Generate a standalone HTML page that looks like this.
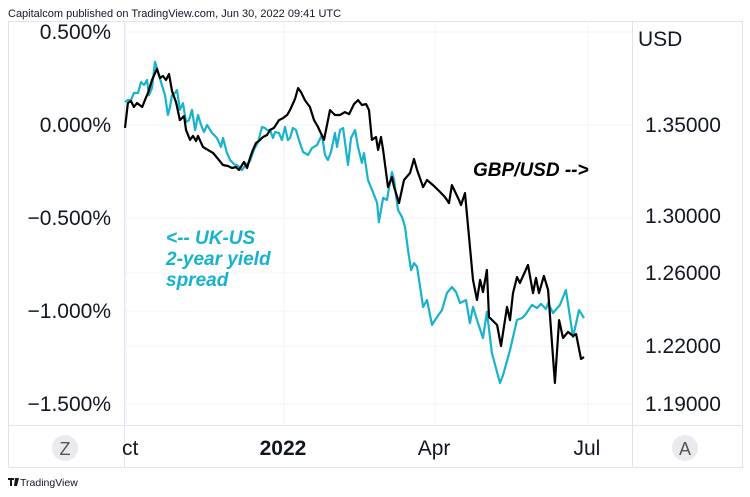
<!DOCTYPE html>
<html><head><meta charset="utf-8">
<style>
body{margin:0;background:#fff;width:750px;height:497px;overflow:hidden;font-family:"Liberation Sans",sans-serif;}
svg{display:block}
</style></head>
<body>
<svg id="c" width="750" height="497" viewBox="0 0 750 497"></svg>
<script>
const spreadDays=[0,1.7,3.5,5.2,7.6,9.3,11.1,12.8,14,15.7,17.5,19.2,21.5,23.3,25,26.2,27.4,29.1,30.3,32,33.8,35.5,37.3,39,40.8,42.5,44.3,46,47.8,50.7,53.6,55.9,57.1,59.4,61.2,63.5,65.8,68.1,69.9,72.8,75.1,77.5,79.8,81.5,82.7,84.5,86.2,87.4,89.7,91.4,93.2,94.9,96.1,97.8,99.6,101.3,103.7,106.6,108.9,111.8,114.7,116.5,118.2,120,122.3,123.5,125.2,127,129.9,131.6,134,135.7,138,139.2,141.5,144.4,146.8,147.9,150.3,152.6,153.8,155.5,156.7,159,161.3,163.1,164.8,166.6,168.3,170.1,173.6,175.9,178.8,181.7,184.6,187.5,190.4,192.8,195.1,198.6,200.9,202.7,205.6,208.5,210.8,213.7,218.4,220.2,224.2,228.3,231.2,233,237,240,242.3,245.2,246.4,249.3,253.3,256.8,260.9,264.4,267.3];
const spreadValues=[0.124,0.134,0.134,0.172,0.172,0.231,0.215,0.242,0.161,0.199,0.339,0.285,0.215,0.161,0.054,0.097,0.161,0.172,0.188,0.081,0.118,0.016,0.027,0.081,-0.027,0.054,0,-0.038,0,-0.043,-0.070,-0.118,-0.070,-0.151,-0.188,-0.210,-0.220,-0.242,-0.220,-0.194,-0.134,-0.091,-0.011,-0.016,-0.027,-0.027,-0.070,-0.038,-0.043,-0.081,-0.011,-0.081,-0.070,-0.016,-0.027,-0.081,-0.145,-0.161,-0.124,-0.108,-0.054,-0.161,-0.188,-0.145,-0.043,-0.118,-0.027,-0.016,-0.215,-0.070,-0.027,-0.118,-0.204,-0.151,-0.296,-0.360,-0.419,-0.522,-0.392,-0.403,-0.333,-0.253,-0.296,-0.457,-0.495,-0.548,-0.672,-0.780,-0.742,-0.763,-0.978,-0.941,-1.075,-1.032,-0.995,-0.903,-0.871,-0.898,-0.957,-0.941,-1.065,-0.978,-1.065,-1.145,-1.005,-1.226,-1.387,-1.344,-1.210,-1.048,-1.038,-1.022,-0.968,-0.984,-0.962,-0.989,-0.957,-1.011,-0.968,-0.887,-1.140,-0.995,-1.038];
const fxDays=[0,1.7,3.5,5.2,7,10,11.6,13.4,15.7,18.6,20.4,22.1,23.9,25.6,27.4,29.7,32,34.4,35.5,37.9,39.6,41.4,42.5,45.4,48.3,51.3,54.2,57.1,60,62.3,64.6,66.4,69.3,71.1,72.8,74.5,76.3,78,80.4,82.7,84.5,86.8,89.7,92,94.4,96.1,99,100.8,102.5,104.8,107.7,110.1,112.4,115.9,119.4,122.3,125.2,128.1,130.5,133.4,135.7,138,140.4,142.1,143.8,146.2,147.4,149.1,150.3,153.2,155.5,156.7,159.6,162.5,166,168.3,170.1,173.6,175.9,179.4,183.5,186.4,188.7,190.4,194.5,195.7,198,199.8,202.7,205,206.8,208.5,210.8,212,216.7,219,222.5,224.2,226,228.3,230,234.7,237.6,239.4,241.1,244,246.4,250.4,252.8,255.1,258,261,262.7,265.6,267.3];
const fxValues=[1.3484,1.3621,1.3632,1.3599,1.3621,1.3599,1.3637,1.3676,1.3747,1.3808,1.3758,1.3769,1.3747,1.3780,1.3687,1.3626,1.3527,1.3549,1.3473,1.3418,1.3440,1.3412,1.3440,1.3379,1.3363,1.3346,1.3313,1.3280,1.3275,1.3264,1.3269,1.3253,1.3297,1.3264,1.3319,1.3363,1.3401,1.3412,1.3434,1.3445,1.3473,1.3484,1.3527,1.3538,1.3555,1.3582,1.3643,1.3703,1.3681,1.3637,1.3599,1.3527,1.3489,1.3418,1.3582,1.3555,1.3555,1.3571,1.3560,1.3615,1.3637,1.3610,1.3615,1.3582,1.3418,1.3434,1.3363,1.3434,1.3363,1.3159,1.3214,1.3159,1.3071,1.3198,1.3236,1.3313,1.3253,1.3159,1.3198,1.3170,1.3132,1.3104,1.3071,1.3170,1.3088,1.3060,1.3126,1.2923,1.2562,1.2452,1.2562,1.2496,1.2621,1.2359,1.2315,1.2200,1.2414,1.2342,1.2490,1.2578,1.2545,1.2656,1.2490,1.2573,1.2490,1.2584,1.2507,1.2009,1.2342,1.2244,1.2277,1.2255,1.2266,1.2133,1.2143];
const leftTicks=[0.5,0,-0.5,-1.0,-1.5];
const leftTickLabels=["0.500%","0.000%","\u22120.500%","\u22121.000%","\u22121.500%"];
const rightTicks=[1.35,1.30,1.26,1.22,1.19];
const rightTickLabels=["1.35000","1.30000","1.26000","1.22000","1.19000"];
const rightTickY=[125,216,273,346,404];
const timeLabels=["ct","2022","Apr","Jul"];
const timeDays=[0,92,180,269];

const NS="http://www.w3.org/2000/svg";
const svg=document.getElementById('c');
function mk(t,a,p){const e=document.createElementNS(NS,t);for(const k in a)e.setAttribute(k,a[k]);(p||svg).appendChild(e);return e;}
const xS=d=>125+d*1.717;
const yL=v=>125-v*186;
function yR(v){
  for(let i=0;i<rightTicks.length-1;i++){
    const a=rightTicks[i],b=rightTicks[i+1];
    if(v<=a&&v>=b) return rightTickY[i]+(a-v)/(a-b)*(rightTickY[i+1]-rightTickY[i]);
  }
  if(v>rightTicks[0]) return rightTickY[0]-(v-rightTicks[0])/0.05*91;
  const n=rightTicks.length;return rightTickY[n-1]+(rightTicks[n-1]-v)/0.03*58;
}
let t=mk('text',{x:8,y:17,'font-size':11,fill:'#131722'});t.textContent="Capitalcom published on TradingView.com, Jun 30, 2022 09:41 UTC";

let fr=mk('rect',{x:8.5,y:21.5,width:734,height:446,fill:'none',stroke:'#e0e3eb'});

mk('line',{x1:8,y1:425.5,x2:743,y2:425.5,stroke:'#e0e3eb'});
mk('line',{x1:124.5,y1:21,x2:124.5,y2:468,stroke:'#e0e3eb'});
mk('line',{x1:632.5,y1:21,x2:632.5,y2:468,stroke:'#e0e3eb'});
leftTicks.forEach(v=>{const g=mk('line',{x1:125,x2:632,y1:yL(v),y2:yL(v),stroke:'#f0f3fa'});});
[1.26,1.22].forEach(v=>{mk('line',{x1:125,x2:632,y1:yR(v),y2:yR(v),stroke:'#f0f3fa'});});
timeDays.forEach(d=>{const g=mk('line',{x1:xS(d)+1,x2:xS(d)+1,y1:21,y2:425,stroke:'#f0f3fa'});});
leftTicks.forEach((v,i)=>{const e=mk('text',{x:111,y:yL(v)+7,'font-size':21,fill:'#131722','text-anchor':'end'});e.textContent=leftTickLabels[i];
});
rightTicks.forEach((v,i)=>{const e=mk('text',{x:645,y:yR(v)+7,'font-size':21,fill:'#131722'});e.textContent=rightTickLabels[i];
});
t=mk('text',{x:638,y:46,'font-size':21,fill:'#131722'});t.textContent="USD";
timeLabels.forEach((s,i)=>{const e=mk('text',{x:i==0?122:xS(timeDays[i]),y:455,'font-size':21,fill:'#131722','text-anchor':i==0?'start':'middle','font-weight':i==1?'bold':'normal'});e.textContent=s;
});
let d=spreadDays.map((x,i)=>(i?'L':'M')+xS(x).toFixed(1)+','+yL(spreadValues[i]).toFixed(1)).join('');
let p=mk('path',{d:d,fill:'none',stroke:'#17b3cd','stroke-width':2.2,'stroke-linejoin':'round'});

d=fxDays.map((x,i)=>(i?'L':'M')+xS(x).toFixed(1)+','+yR(fxValues[i]).toFixed(1)).join('');
p=mk('path',{d:d,fill:'none',stroke:'#000','stroke-width':2.2,'stroke-linejoin':'round'});

t=mk('text',{x:473,y:176,'font-size':19,'font-weight':'bold','font-style':'italic',fill:'#000'});t.textContent="GBP/USD -->";

["<-- UK-US","2-year yield","spread"].forEach((s,i)=>{const e=mk('text',{x:166,y:244+i*21,'font-size':19,'font-weight':'bold','font-style':'italic',fill:'#17b3cd'});e.textContent=s;
});
[[65,'Z','zoom-button'],[685,'A','auto-scale-button']].forEach(b=>{const g=mk('g',{});
mk('circle',{cx:b[0],cy:448,r:13,fill:'#e9eaee'},g);const e=mk('text',{x:b[0],y:455,'font-size':18,fill:'#555','text-anchor':'middle'},g);e.textContent=b[1];});
let lg=mk('g',{});
mk('path',{d:'M8 478h6v2h-2v6h-2v-6h-2z M15 478h2l-1 8h-2z M17 478h2l-2 8h-1z',fill:'#131722'},lg);
t=mk('text',{x:20,y:486,'font-size':10.5,fill:'#131722'},lg);t.textContent="TradingView";
</script>
</body></html>
